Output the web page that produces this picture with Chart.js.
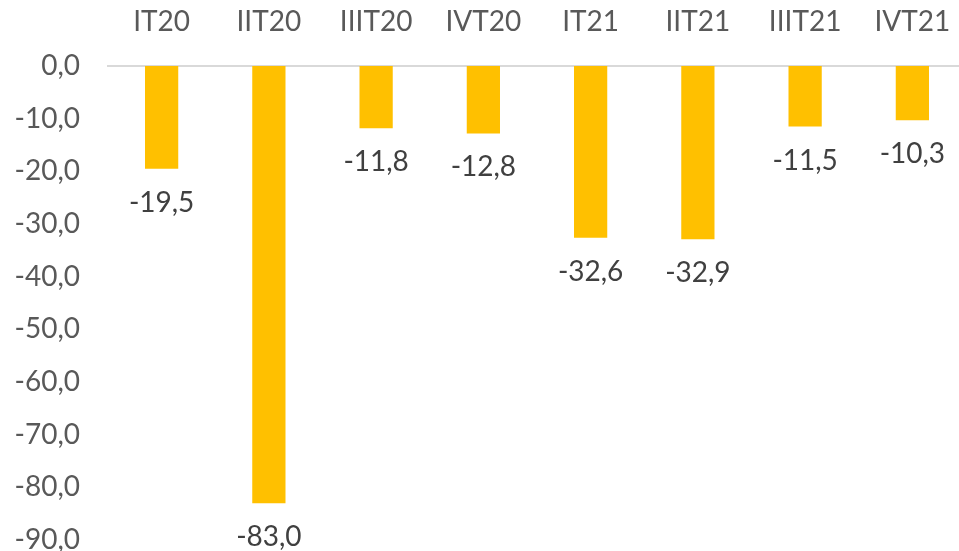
<!DOCTYPE html>
<html>
<head>
<meta charset="utf-8">
<script src="https://cdn.jsdelivr.net/npm/chart.js@4/dist/chart.umd.min.js"></script>
<style>
  html, body { margin: 0; padding: 0; background: #fff; overflow: hidden; }
  #wrap { width: 966px; height: 551px; }
</style>
</head>
<body>
<div id="wrap"><canvas id="chart"></canvas></div>
<script>
const quarters = ['IT20', 'IIT20', 'IIIT20', 'IVT20', 'IT21', 'IIT21', 'IIIT21', 'IVT21'];
const variation = [-19.5, -83.0, -11.8, -12.8, -32.6, -32.9, -11.5, -10.3];

const fmt = v => v.toFixed(1).replace('.', ',');

// value labels under each bar end
const barLabels = {
    id: 'barLabels',
    afterDatasetsDraw(chart) {
        const ctx = chart.ctx;
        const meta = chart.getDatasetMeta(0);
        ctx.save();
        ctx.font = '28px Lato';
        ctx.fillStyle = '#404040';
        ctx.textAlign = 'center';
        ctx.textBaseline = 'middle';
        meta.data.forEach((bar, i) => {
            ctx.fillText(fmt(variation[i]), bar.x, bar.y + 34);
        });
        ctx.restore();
    }
};

new Chart(document.getElementById('chart'), {
    type: 'bar',
    data: {
        labels: quarters,
        datasets: [{
            data: variation,
            backgroundColor: '#FFC000',
            barPercentage: 0.62,
            categoryPercentage: 0.5
        }]
    },
    options: {
        responsive: true,
        maintainAspectRatio: false,
        animation: false,
        layout: { padding: { top: 4, right: 0, bottom: 0, left: 0 } },
        plugins: {
            legend: { display: false },
            tooltip: { enabled: false }
        },
        scales: {
            x: {
                position: 'top',
                grid: { display: false, drawTicks: false },
                border: { display: true, color: '#D9D9D9', width: 2 },
                ticks: { color: '#595959', font: { family: 'Lato', size: 28 }, padding: 27, maxRotation: 0 },
                afterFit(scale) {
                    scale.height = 62;
                    scale.paddingLeft = 0;
                    scale.paddingRight = 0;
                }
            },
            y: {
                min: -90,
                max: 0,
                grid: { display: false, drawTicks: false },
                border: { display: false },
                ticks: {
                    stepSize: 10,
                    color: '#595959',
                    font: { family: 'Lato', size: 28 },
                    padding: 28,
                    callback: v => fmt(v)
                },
                afterFit(scale) {
                    scale.width = 108;
                    scale.paddingBottom = 11;
                }
            }
        }
    },
    plugins: [barLabels]
});
</script>
</body>
</html>
